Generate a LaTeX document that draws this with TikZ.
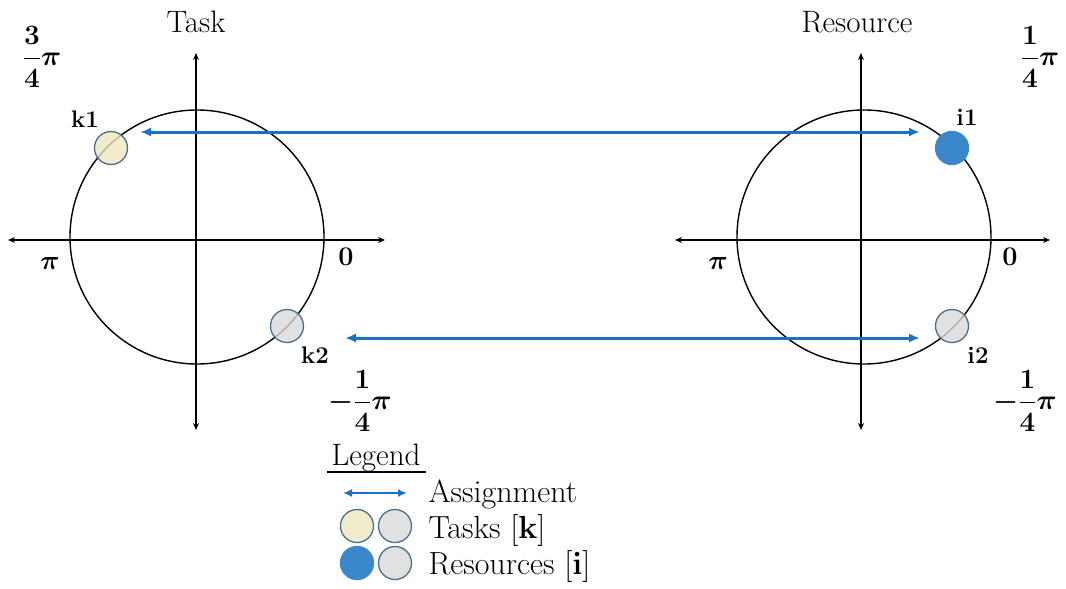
\RequirePackage{fix-cm}
\documentclass[tikz,border=0pt]{standalone}
\usepackage{amsmath}
\usetikzlibrary{arrows.meta}
\definecolor{assignblue}{HTML}{1A73C2}
\definecolor{resblue}{HTML}{3A88C9}
\definecolor{taskyellow}{HTML}{EDE8BF}
\definecolor{dotgrey}{HTML}{DADADA}
\definecolor{dotedge}{HTML}{4A6E8E}
\tikzset{
  axis/.style={line width=1.4pt,{Stealth[length=7pt,width=6pt]}-{Stealth[length=7pt,width=6pt]}},
  ring/.style={circle,draw,line width=1.4pt,minimum size=254pt,inner sep=0pt},
  assign/.style={draw=assignblue,line width=3pt,{Latex[length=11pt,width=9pt]}-{Latex[length=11pt,width=9pt]}},
  dot/.style={circle,minimum size=33pt,inner sep=0pt,line width=1.3pt,draw=dotedge},
  taskdot/.style={dot,fill=taskyellow,fill opacity=0.8},
  greydot/.style={dot,fill=dotgrey,fill opacity=0.8},
  resdot/.style={dot,fill=resblue,draw=resblue},
  title/.style={font=\fontsize{31}{36}\selectfont},
  ptlabel/.style={font=\fontsize{24}{28}\selectfont\bfseries},
  angle/.style={font=\fontsize{27}{32}\selectfont\boldmath},
  frac/.style={font=\fontsize{28}{34}\selectfont\boldmath},
  legtext/.style={anchor=west,font=\fontsize{32}{36}\selectfont}
}
\begin{document}
\begin{tikzpicture}[x=1pt,y=-1pt]
\useasboundingbox (0,0) rectangle (1066,589);
% Task side
\coordinate (tL) at (8,240); \coordinate (tR) at (385,240);
\coordinate (tT) at (196,53); \coordinate (tB) at (196,430);
\draw[axis] (tL) -- (tR);
\draw[axis] (tT) -- (tB);
\node[ring] (C1) at (197,237) {};
\node[title] (task) at (196,22) {Task};
\node[taskdot] (k1) at (111,148) {};
\node[greydot] (k2) at (287,326) {};
\node[ptlabel] (k1l) at (85,119) {k1};
\node[ptlabel] (k2l) at (315,355) {k2};
\node[frac] (a34) at (42,57) {$\dfrac{3}{4}\pi$};
\node[frac] (am14a) at (360,401) {$-\dfrac{1}{4}\pi$};
\node[angle] (pi1) at (50,263) {$\pi$};
\node[angle] (z1) at (346,257) {$0$};
% Resource side
\coordinate (rL) at (675,240); \coordinate (rR) at (1050,240);
\coordinate (rT) at (861,53); \coordinate (rB) at (861,430);
\draw[axis] (rL) -- (rR);
\draw[axis] (rT) -- (rB);
\node[ring] (C2) at (864,237) {};
\node[title] (res) at (857,22) {Resource};
\node[resdot] (i1) at (952,148) {};
\node[greydot] (i2) at (952,326) {};
\node[ptlabel] (i1l) at (967,117) {i1};
\node[ptlabel] (i2l) at (978,355) {i2};
\node[frac] (a14) at (1040,57) {$\dfrac{1}{4}\pi$};
\node[frac] (am14b) at (1025,401) {$-\dfrac{1}{4}\pi$};
\node[angle] (pi2) at (718,263) {$\pi$};
\node[angle] (z2) at (1010,257) {$0$};
% Assignments
\coordinate (a1s) at (140,132); \coordinate (a1e) at (920,132);
\coordinate (a2s) at (345,338); \coordinate (a2e) at (920,338);
\draw[assign] (a1s) -- (a1e);
\draw[assign] (a2s) -- (a2e);
% Legend
\node[title] (leg) at (376,458) {Legend};
\coordinate (ul1) at (327,472); \coordinate (ul2) at (426,472);
\draw[line width=2pt] (ul1) -- (ul2);
\coordinate (la) at (343,493); \coordinate (lb) at (407,493);
\draw[assign,line width=2.5pt,{Latex[length=9pt,width=8pt]}-{Latex[length=9pt,width=8pt]}] (la) -- (lb);
\node[legtext] (lassign) at (425,494) {Assignment};
\node[taskdot] (lt1) at (357,526) {};
\node[greydot] (lt2) at (395,526) {};
\node[legtext] (ltasks) at (425,530) {Tasks [$\mathbf{k}$]};
\node[resdot] (lr1) at (357,563) {};
\node[greydot] (lr2) at (395,563) {};
\node[legtext] (lres) at (425,566) {Resources [$\mathbf{i}$]};
\end{tikzpicture}
\end{document}
